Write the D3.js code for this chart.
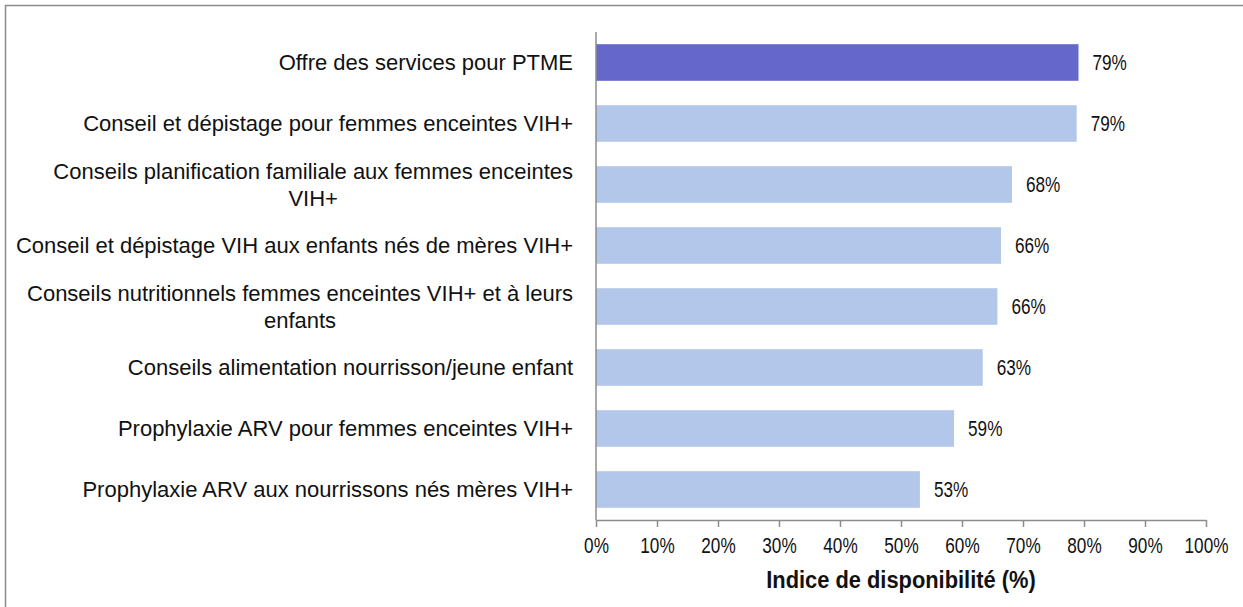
<!DOCTYPE html>
<html>
<head>
<meta charset="utf-8">
<script src="https://cdn.jsdelivr.net/npm/d3@7/dist/d3.min.js"></script>
<style>
  html, body { margin: 0; padding: 0; background: #fff; }
  svg { display: block; }
</style>
</head>
<body>
<svg id="chart" width="1243" height="607"></svg>
<script>
// Service categories (top to bottom); "\n" marks a forced line break
const categories = [
  "Offre des services pour PTME",
  "Conseil et dépistage pour femmes enceintes VIH+",
  "Conseils planification familiale aux femmes enceintes\nVIH+",
  "Conseil et dépistage VIH aux enfants nés de mères VIH+",
  "Conseils nutritionnels femmes enceintes VIH+ et à leurs\nenfants",
  "Conseils alimentation nourrisson/jeune enfant ",
  "Prophylaxie ARV pour femmes enceintes VIH+",
  "Prophylaxie ARV aux nourrissons nés mères VIH+"
];
// Availability index, percent
const values = [79.1, 78.8, 68.2, 66.4, 65.8, 63.4, 58.7, 53.1];
// Highlighted summary row
const highlight = [true, false, false, false, false, false, false, false];
// X axis ticks
const xTicks = [0, 10, 20, 30, 40, 50, 60, 70, 80, 90, 100];
const xTitle = "Indice de disponibilité (%)";

const svg = d3.select("#chart");
const W = 1243, H = 607;
const plot = { left: 596, right: 1206, top: 32, bottom: 520 };
const FONT = "'Liberation Sans', Arial, sans-serif";
const NARROW = 0.78; // horizontal squeeze for the condensed number text

// Condense a text element horizontally while keeping its font size
function condense(sel, factor) {
  sel.each(function () {
    const w = this.getComputedTextLength();
    d3.select(this).attr("textLength", w * factor).attr("lengthAdjust", "spacingAndGlyphs");
  });
}

// Outer chart frame
svg.append("rect")
  .attr("x", 5.5).attr("y", 5.5)
  .attr("width", W + 10).attr("height", H + 10)
  .attr("fill", "none").attr("stroke", "#8c8c8c").attr("stroke-width", 1.5);

const x = d3.scaleLinear().domain([0, 100]).range([plot.left, plot.right]);
const y = d3.scaleBand().domain(categories).range([plot.top, plot.bottom])
  .paddingInner(0.4).paddingOuter(0.2);

// Bars
svg.append("g").selectAll("rect").data(categories).join("rect")
  .attr("x", x(0))
  .attr("y", d => y(d))
  .attr("width", (d, i) => x(values[i]) - x(0))
  .attr("height", y.bandwidth())
  .attr("fill", (d, i) => highlight[i] ? "#6667cb" : "#b3c7ea");

// Value labels
svg.append("g").selectAll("text").data(categories).join("text")
  .attr("x", (d, i) => x(values[i]) + 14)
  .attr("y", d => y(d) + y.bandwidth() / 2)
  .attr("dy", "0.36em")
  .attr("font-family", FONT)
  .attr("font-size", 22)
  .attr("fill", "#111")
  .text((d, i) => Math.round(values[i]) + "%")
  .call(condense, NARROW);

// X axis
const xAxis = d3.axisBottom(x).tickValues(xTicks).tickFormat(d => d + "%")
  .tickSize(7).tickSizeOuter(0).tickPadding(10);
const gx = svg.append("g").attr("transform", `translate(0,${plot.bottom})`).call(xAxis);
gx.select(".domain").attr("stroke", "#8c8c8c").attr("stroke-width", 1.5);
gx.selectAll(".tick line").attr("stroke", "#8c8c8c").attr("stroke-width", 1.5);
gx.selectAll(".tick text")
  .attr("font-family", FONT)
  .attr("font-size", 22).attr("fill", "#111")
  .call(condense, NARROW);

// Y axis line
svg.append("line")
  .attr("x1", plot.left).attr("x2", plot.left)
  .attr("y1", plot.top).attr("y2", plot.bottom)
  .attr("stroke", "#8c8c8c").attr("stroke-width", 1.5);

// Category labels: right-aligned block, lines centred within it
const labelRight = 573;
const lineH = 27;
const gl = svg.append("g");
categories.forEach(c => {
  const lines = c.split("\n");
  const cy = y(c) + y.bandwidth() / 2;
  const t = gl.append("text")
    .attr("font-family", FONT)
    .attr("font-size", 22)
    .attr("fill", "#111")
    .attr("text-anchor", "middle");
  const spans = lines.map((ln, k) => t.append("tspan").text(ln)
    .attr("y", cy + (k - (lines.length - 1) / 2) * lineH)
    .attr("dy", "0.35em"));
  const wMax = d3.max(spans, s => s.node().getComputedTextLength());
  spans.forEach(s => s.attr("x", labelRight - wMax / 2));
});

// Axis title
svg.append("text")
  .attr("x", (plot.left + plot.right) / 2)
  .attr("y", 580)
  .attr("dy", "0.35em")
  .attr("text-anchor", "middle")
  .attr("font-family", FONT)
  .attr("font-weight", "bold")
  .attr("font-size", 23)
  .attr("fill", "#111")
  .text(xTitle)
  .call(condense, 0.95);
</script>
</body>
</html>
